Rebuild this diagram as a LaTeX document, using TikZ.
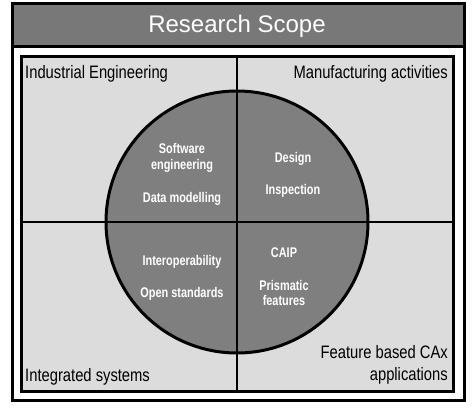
\documentclass[tikz,border=0pt]{standalone}
\usepackage{fontspec}
\setmainfont{Liberation Sans}
\newfontfamily\narrowfont[FakeStretch=0.82]{Liberation Sans}
\newfontfamily\narrowbold[FakeStretch=0.78]{Liberation Sans Bold}
\begin{document}
\begin{tikzpicture}[x=1pt,y=-1pt,
  frame/.style={draw=black,line width=3pt},
  corner/.style={font=\narrowfont\fontsize{18}{20}\selectfont,text=black,inner sep=0pt},
  inlabel/.style={font=\narrowbold\fontsize{14}{16}\selectfont,text=white,inner sep=0pt,anchor=base}]
\definecolor{titlegray}{HTML}{787878}
\definecolor{bggray}{HTML}{DCDCDC}
\definecolor{circgray}{HTML}{7F7F7F}
\useasboundingbox (0,0) rectangle (474,413);
% outer frame
\node[frame,fill=white,minimum width=452pt,minimum height=397pt,anchor=north west,inner sep=0pt] (outer) at (10.5,1.5) {};
% title band
\node[frame,fill=titlegray,minimum width=452pt,minimum height=43pt,anchor=north west,inner sep=0pt] (title) at (10.5,1.5) {};
\node[text=white,font=\fontsize{24}{28}\selectfont,anchor=base,inner sep=0pt] (titletext) at (237,32) {Research Scope};
% inner box
\node[frame,fill=bggray,minimum width=432pt,minimum height=335pt,anchor=north west,inner sep=0pt] (inner) at (20,55) {};
\coordinate (c) at (237,222);
\node[circle,draw=black,line width=3pt,fill=circgray,minimum size=262pt,inner sep=0pt] (circ) at (c) {};
\draw[line width=2.2pt] (inner.north -| c) coordinate (vt) -- (inner.south -| c) coordinate (vb);
\draw[line width=2.2pt] (inner.west |- c) coordinate (hl) -- (inner.east |- c) coordinate (hr);
% corner labels
\node[corner,anchor=base west] (ie) at (25,78) {Industrial Engineering};
\node[corner,anchor=base east] (ma) at (448,78) {Manufacturing activities};
\node[corner,anchor=base west] (is) at (25,381) {Integrated systems};
\node[corner,anchor=base east] (fb) at (448,358) {Feature based CAx};
\node[corner,anchor=base east] (fb2) at (448,380) {applications};
% circle labels
\node[inlabel] (se) at (182,153) {Software};
\node[inlabel] (se2) at (182,169) {engineering};
\node[inlabel] (dm) at (182,202) {Data modelling};
\node[inlabel] (de) at (293,162) {Design};
\node[inlabel] (in) at (293,194) {Inspection};
\node[inlabel] (io) at (182,265) {Interoperability};
\node[inlabel] (os) at (182,297) {Open standards};
\node[inlabel] (ca) at (284,257) {CAIP};
\node[inlabel] (pf) at (284,290) {Prismatic};
\node[inlabel] (pf2) at (284,305) {features};
\end{tikzpicture}
\end{document}
